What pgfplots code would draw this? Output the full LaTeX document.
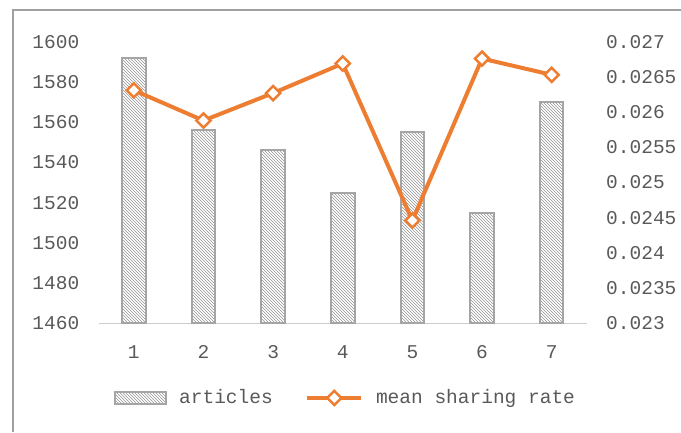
\documentclass[border=0pt]{standalone}
\usepackage{pgfplots}
\pgfplotsset{compat=1.18}
\usepackage{fontspec}
\setmainfont{Liberation Mono}
\usetikzlibrary{patterns}
\definecolor{txt}{HTML}{595959}
\definecolor{barc}{HTML}{A5A5A5}
\definecolor{orng}{HTML}{ED7D31}
\definecolor{frm}{HTML}{A0A0A0}
\begin{document}
\fontsize{19.5pt}{22pt}\selectfont
\begin{tikzpicture}[x=1pt,y=1pt]
\useasboundingbox (0,0) rectangle (681,432);
\draw[frm, line width=2pt] (13,0) -- (13,422) -- (682,422);
\begin{axis}[
  at={(99pt,108.7pt)}, anchor=south west,
  scale only axis, width=487.5pt, height=281.6pt,
  xmin=0.5, xmax=7.5, ymin=1460, ymax=1600,
  axis y line*=left, axis x line*=bottom,
  y axis line style={draw=none},
  x axis line style={draw=gray!40, line width=1pt, -},
  xtick={1,...,7}, ytick={1460,1480,...,1600},
  major tick length=0pt,
  tick style={draw=none},
  /pgf/number format/assume math mode=true,
  /pgf/number format/1000 sep={},
  ticklabel style={font=\fontsize{19.5pt}{22pt}\selectfont, text=txt},
  yticklabel style={inner sep=0pt, anchor=east, xshift=-19.5pt},
  xticklabel style={inner sep=0pt, anchor=north, yshift=-21.7pt},
  legend style={at={(0.504,-0.265)}, anchor=center, draw=none, fill=none,
    font=\fontsize{19.5pt}{22pt}\selectfont, text=txt,
    nodes={inner sep=0pt},
    legend columns=2, /tikz/every even column/.append style={column sep=32.5pt}},
  legend cell align=left,
]
\addplot[ybar, bar width=23.5pt, draw=barc, line width=2pt,
  pattern=north west lines, pattern color=gray!85,
  legend image code/.code={\draw[draw=barc, line width=1.5pt, pattern=north west lines, pattern color=gray!85] (0pt,-6pt) rectangle (51pt,6pt); \path[draw=none,fill=none,pattern=none] (0pt,0pt) -- (64pt,0pt);}]
  coordinates {(1,1592) (2,1556) (3,1546) (4,1525) (5,1555) (6,1515) (7,1570)};
\addlegendentry{articles}
\addlegendimage{orng, line width=4pt,
  legend image code/.code={\draw[orng, line width=4pt] (0pt,0pt) -- (54pt,0pt); \draw[orng, fill=white, line width=2.5pt, rotate around={45:(27pt,0pt)}] (22pt,-5pt) rectangle (32pt,5pt); \path[draw=none,fill=none] (0pt,0pt) -- (68.7pt,0pt);}}
\addlegendentry{mean sharing rate}
\end{axis}
\begin{axis}[
  at={(99pt,108.7pt)}, anchor=south west,
  scale only axis, width=487.5pt, height=281.6pt,
  xmin=0.5, xmax=7.5, ymin=0.023, ymax=0.027,
  axis y line*=right, axis x line=none,
  y axis line style={draw=none},
  scaled y ticks=false,
  ytick={0.023,0.0235,0.024,0.0245,0.025,0.0255,0.026,0.0265,0.027},
  yticklabels={0.023,0.0235,0.024,0.0245,0.025,0.0255,0.026,0.0265,0.027},
  major tick length=0pt, tick style={draw=none},
  ticklabel style={font=\fontsize{19.5pt}{22pt}\selectfont, text=txt},
  yticklabel style={inner sep=0pt, anchor=west, xshift=19.5pt},
]
\addplot[orng, line width=4pt, mark=square*, mark size=5pt,
  mark options={fill=white, draw=orng, line width=2.5pt, rotate=45}]
  coordinates {(1,0.02631) (2,0.02588) (3,0.02627) (4,0.02669) (5,0.02446) (6,0.02676) (7,0.02653)};
\end{axis}
\end{tikzpicture}
\end{document}
